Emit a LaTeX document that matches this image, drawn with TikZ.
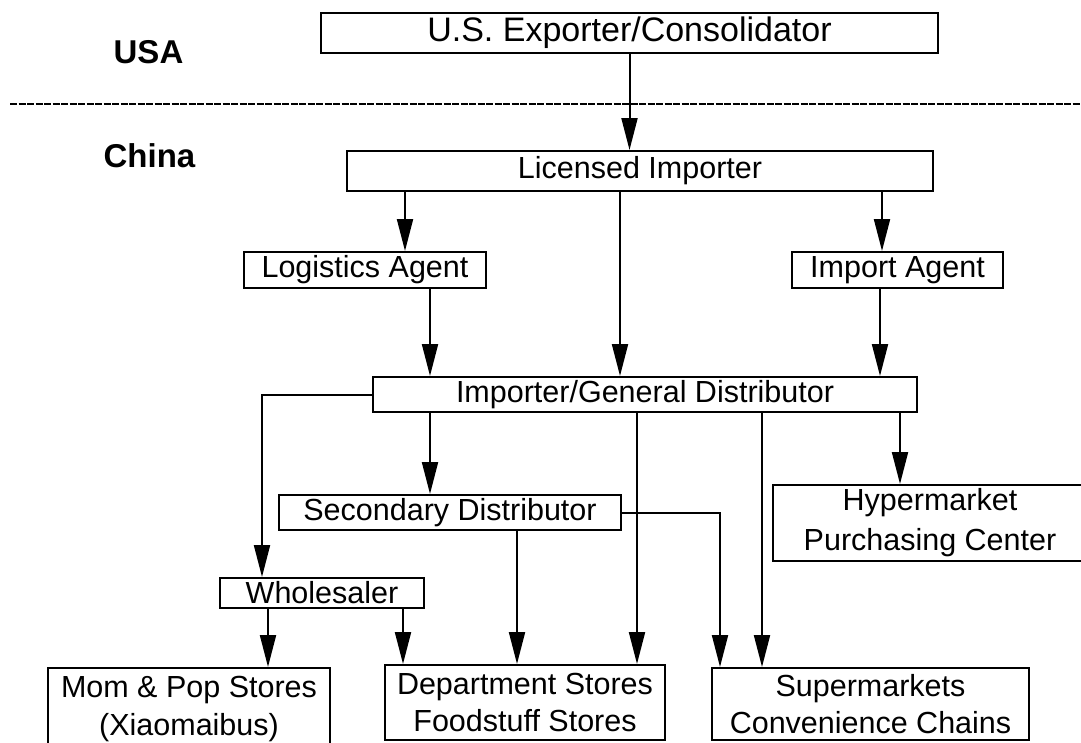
\documentclass[tikz,border=0pt]{standalone}
\usepackage{fontspec}
\setmainfont{Liberation Sans}
\usetikzlibrary{arrows.meta}
\begin{document}
\begin{tikzpicture}[x=1pt,y=-1pt,
  box/.style={draw,line width=2pt,inner sep=0pt,font=\fontsize{30.5}{38}\selectfont,align=center},
  arr/.style={line width=2pt,-{Triangle[width=16pt,length=32pt]}},
  ln/.style={line width=2pt},
  region/.style={font=\bfseries\fontsize{33}{38}\selectfont},
  border/.style={line width=1.3pt,dash pattern=on 7pt off 1.5pt}]
\useasboundingbox (0,0) rectangle (1081,742);
% region labels and border
\node[region] (usa) at (148.5,52) {USA};
\node[region] (china) at (149.5,156) {China};
\coordinate (bl) at (10,104);
\coordinate (br) at (1081,104);
\draw[border] (bl) -- (br);
% boxes
\node[box,minimum width=617pt,minimum height=40pt,font=\fontsize{34}{40}\selectfont] (us) at (629.5,33) {U.S. Exporter/Consolidator};
\node[box,minimum width=586pt,minimum height=40pt] (li) at (640,171) {Licensed Importer};
\node[box,minimum width=242pt,minimum height=36pt] (log) at (365,270) {Logistics Agent};
\node[box,minimum width=211pt,minimum height=36pt] (ia) at (897.5,270) {Import Agent};
\node[box,minimum width=544pt,minimum height=35pt] (igd) at (645,394.5) {Importer/General Distributor};
\node[box,minimum width=342pt,minimum height=35pt] (sd) at (450,512.5) {Secondary Distributor};
\node[box,minimum width=314pt,minimum height=76pt,font=\fontsize{30.5}{40}\selectfont] (hy) at (930,523) {Hypermarket\\Purchasing Center};
\node[box,minimum width=204pt,minimum height=30pt] (wh) at (322,593) {Wholesaler};
\node[box,minimum width=282pt,minimum height=82pt] (mom) at (189,709) {Mom \& Pop Stores\\(Xiaomaibus)};
\node[box,minimum width=280pt,minimum height=75pt,font=\fontsize{30.5}{37}\selectfont] (dept) at (525,702.5) {Department Stores\\Foodstuff Stores};
\node[box,minimum width=317pt,minimum height=72pt,font=\fontsize{30.5}{37}\selectfont] (sup) at (870.5,704) {Supermarkets\\Convenience Chains};
% x positions of connectors
\coordinate (x262) at (262,0);
\coordinate (x268) at (268,0);
\coordinate (x403) at (403,0);
\coordinate (x405) at (405,0);
\coordinate (x430) at (430,0);
\coordinate (x517) at (517,0);
\coordinate (x620) at (620,0);
\coordinate (x637) at (637,0);
\coordinate (x720) at (720,0);
\coordinate (x762) at (762,0);
\coordinate (x880) at (880,0);
\coordinate (x882) at (882,0);
\coordinate (x900) at (900,0);
% connectors
\draw[arr] (us) -- (li.north -| us.south);
\draw[arr] (li.south -| x405) -- (log.north -| x405);
\draw[arr] (li.south -| x620) -- (igd.north -| x620);
\draw[arr] (li.south -| x882) -- (ia.north -| x882);
\draw[arr] (log.south -| x430) -- (igd.north -| x430);
\draw[arr] (ia.south -| x880) -- (igd.north -| x880);
\draw[arr] (igd.west) -| (wh.north -| x262);
\draw[arr] (igd.south -| x430) -- (sd.north -| x430);
\draw[arr] (igd.south -| x637) -- (dept.north -| x637);
\draw[arr] (igd.south -| x762) -- (sup.north -| x762);
\draw[arr] (igd.south -| x900) -- (hy.north -| x900);
\draw[arr] (sd.east) -| (sup.north -| x720);
\draw[arr] (sd.south -| x517) -- (dept.north -| x517);
\draw[arr] (wh.south -| x268) -- (mom.north -| x268);
\draw[arr] (wh.south -| x403) -- (dept.north -| x403);
\end{tikzpicture}
\end{document}
